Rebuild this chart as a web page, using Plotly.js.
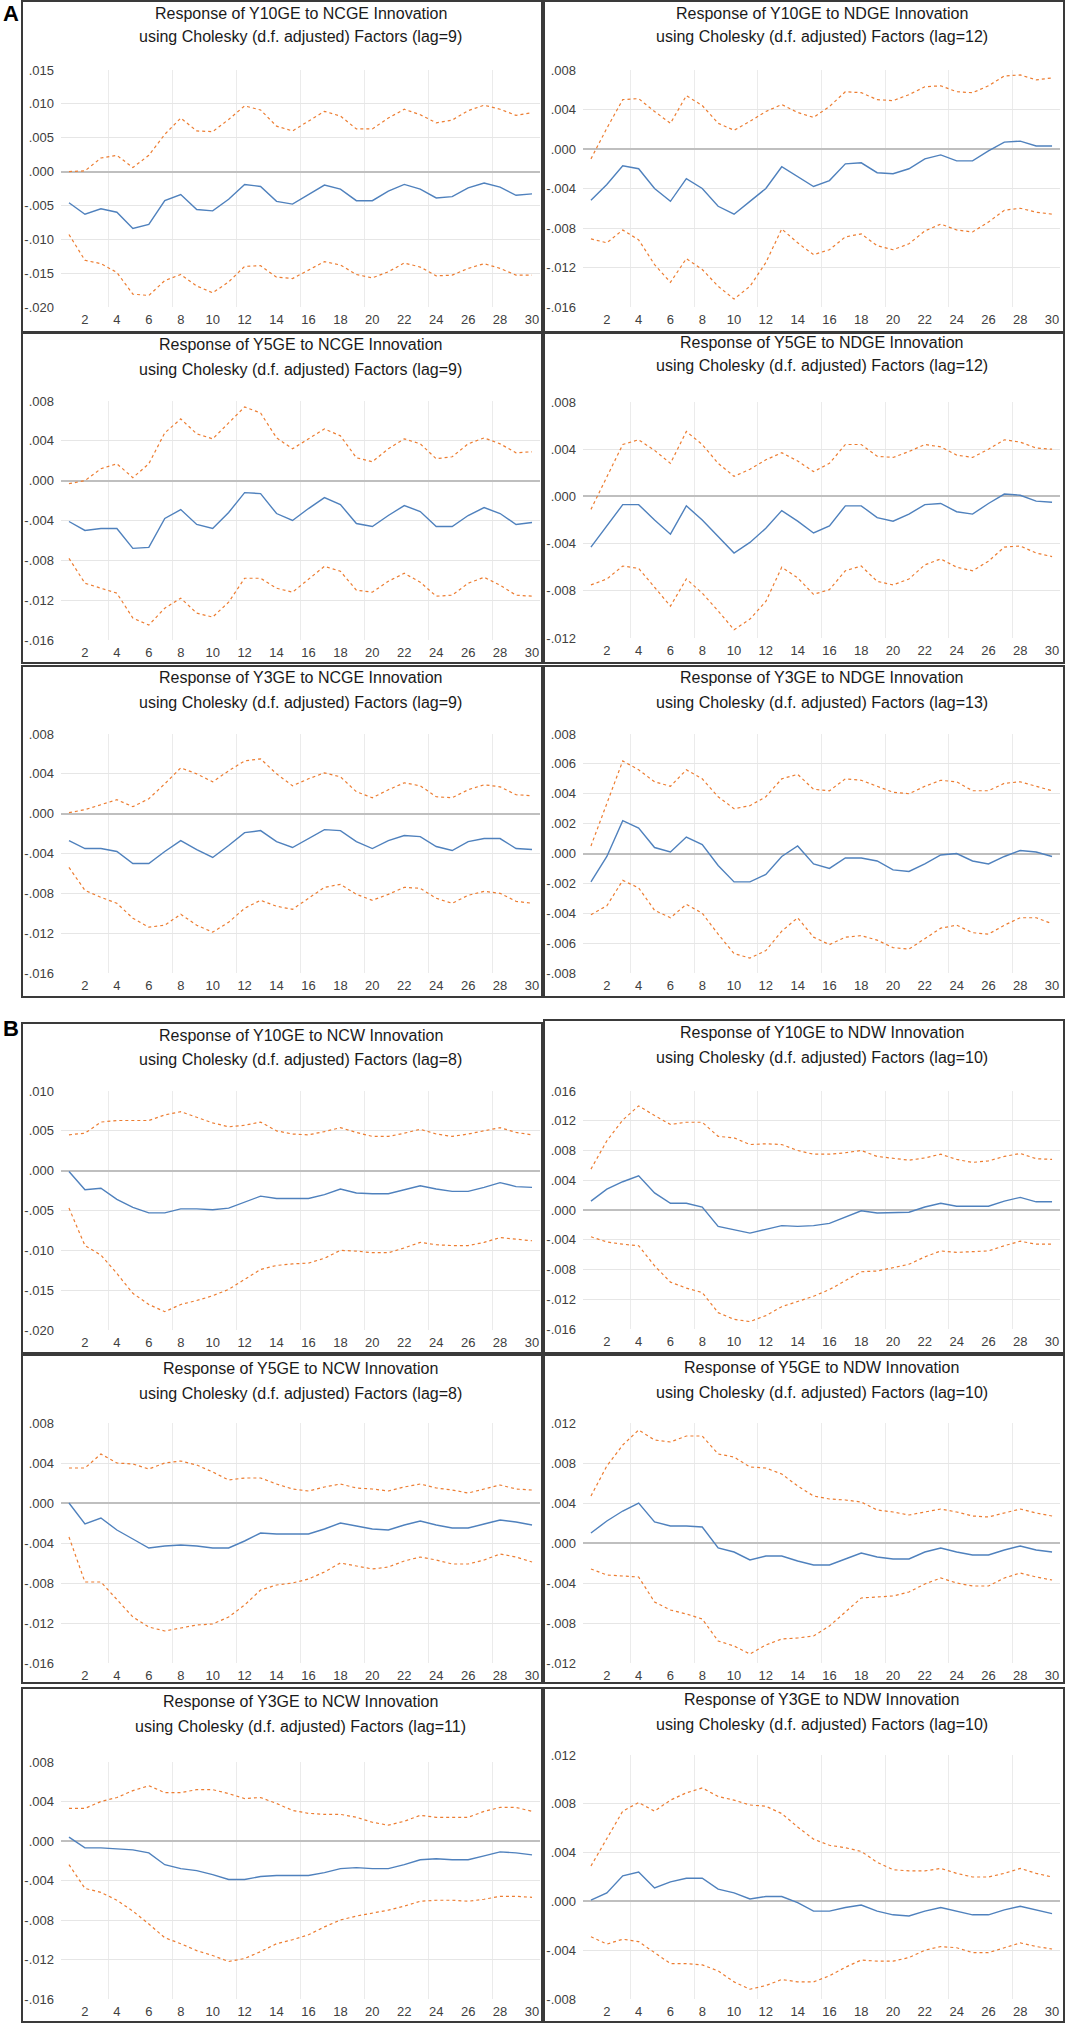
<!DOCTYPE html>
<html>
<head>
<meta charset="utf-8">
<script src="https://cdn.plot.ly/plotly-3.0.1.min.js"></script>
<style>
  html, body { margin: 0; padding: 0; background: #fff; }
  #graph { width: 1066px; height: 2024px; }
</style>
</head>
<body>
<div id="graph"></div>
<script>
// Impulse responses (response, upper and lower bands) for 30 periods.

const periods = [1, 2, 3, 4, 5, 6, 7, 8, 9, 10, 11, 12, 13, 14, 15, 16, 17, 18, 19, 20, 21, 22, 23, 24, 25, 26, 27, 28, 29, 30];
const xTickVals = [2, 4, 6, 8, 10, 12, 14, 16, 18, 20, 22, 24, 26, 28, 30];

// A: Y10GE to NCGE (lag=9)
const y10ncgeUp = [0.0000, 0.0001, 0.0020, 0.0024, 0.0006, 0.0024, 0.0055, 0.0079, 0.0060, 0.0059, 0.0077, 0.0097, 0.0091, 0.0067, 0.0060, 0.0075, 0.0089, 0.0082, 0.0063, 0.0063, 0.0079, 0.0092, 0.0084, 0.0072, 0.0076, 0.0090, 0.0098, 0.0092, 0.0083, 0.0087];
const y10ncgeResp = [-0.0046, -0.0063, -0.0055, -0.0060, -0.0084, -0.0078, -0.0043, -0.0034, -0.0056, -0.0058, -0.0041, -0.0019, -0.0022, -0.0044, -0.0048, -0.0034, -0.0020, -0.0026, -0.0043, -0.0043, -0.0029, -0.0019, -0.0026, -0.0039, -0.0037, -0.0024, -0.0017, -0.0023, -0.0035, -0.0033];
const y10ncgeLow = [-0.0093, -0.0131, -0.0136, -0.0149, -0.0181, -0.0183, -0.0161, -0.0152, -0.0169, -0.0179, -0.0163, -0.0140, -0.0139, -0.0156, -0.0158, -0.0146, -0.0133, -0.0138, -0.0152, -0.0157, -0.0148, -0.0135, -0.0141, -0.0154, -0.0153, -0.0143, -0.0136, -0.0143, -0.0153, -0.0153];

// A: Y10GE to NDGE (lag=12)
const y10ndgeUp = [-0.0010, 0.0021, 0.0050, 0.0051, 0.0038, 0.0026, 0.0054, 0.0044, 0.0026, 0.0019, 0.0028, 0.0038, 0.0045, 0.0037, 0.0032, 0.0043, 0.0058, 0.0057, 0.0050, 0.0049, 0.0055, 0.0063, 0.0064, 0.0058, 0.0057, 0.0064, 0.0074, 0.0075, 0.0070, 0.0072];
const y10ndgeResp = [-0.0052, -0.0036, -0.0017, -0.0020, -0.0040, -0.0053, -0.0030, -0.0040, -0.0058, -0.0066, -0.0053, -0.0040, -0.0018, -0.0028, -0.0038, -0.0032, -0.0015, -0.0014, -0.0024, -0.0025, -0.0020, -0.0010, -0.0006, -0.0012, -0.0012, -0.0002, 0.0007, 0.0008, 0.0003, 0.0003];
const y10ndgeLow = [-0.0091, -0.0095, -0.0082, -0.0092, -0.0117, -0.0135, -0.0111, -0.0122, -0.0139, -0.0152, -0.0139, -0.0115, -0.0081, -0.0095, -0.0107, -0.0102, -0.0089, -0.0086, -0.0098, -0.0102, -0.0096, -0.0083, -0.0076, -0.0082, -0.0084, -0.0074, -0.0062, -0.0060, -0.0064, -0.0066];

// A: Y5GE to NCGE (lag=9)
const y5ncgeUp = [-0.0003, 0.0000, 0.0012, 0.0017, 0.0003, 0.0017, 0.0048, 0.0062, 0.0047, 0.0042, 0.0058, 0.0074, 0.0068, 0.0043, 0.0032, 0.0042, 0.0052, 0.0045, 0.0023, 0.0019, 0.0032, 0.0042, 0.0037, 0.0022, 0.0024, 0.0037, 0.0043, 0.0037, 0.0028, 0.0029];
const y5ncgeResp = [-0.0041, -0.0050, -0.0048, -0.0048, -0.0068, -0.0067, -0.0038, -0.0029, -0.0044, -0.0048, -0.0032, -0.0012, -0.0013, -0.0033, -0.0040, -0.0028, -0.0017, -0.0024, -0.0043, -0.0046, -0.0035, -0.0025, -0.0031, -0.0046, -0.0046, -0.0035, -0.0027, -0.0033, -0.0044, -0.0042];
const y5ncgeLow = [-0.0078, -0.0103, -0.0108, -0.0113, -0.0138, -0.0145, -0.0128, -0.0118, -0.0133, -0.0137, -0.0122, -0.0098, -0.0098, -0.0108, -0.0112, -0.0099, -0.0086, -0.0091, -0.0110, -0.0112, -0.0101, -0.0093, -0.0102, -0.0116, -0.0115, -0.0103, -0.0097, -0.0105, -0.0115, -0.0116];

// A: Y5GE to NDGE (lag=12)
const y5ndgeUp = [-0.0011, 0.0017, 0.0044, 0.0048, 0.0039, 0.0028, 0.0055, 0.0044, 0.0028, 0.0017, 0.0023, 0.0031, 0.0037, 0.0030, 0.0021, 0.0028, 0.0044, 0.0044, 0.0034, 0.0033, 0.0038, 0.0044, 0.0042, 0.0035, 0.0033, 0.0040, 0.0048, 0.0046, 0.0041, 0.0040];
const y5ndgeResp = [-0.0043, -0.0025, -0.0007, -0.0007, -0.0020, -0.0032, -0.0008, -0.0020, -0.0034, -0.0048, -0.0039, -0.0027, -0.0012, -0.0021, -0.0031, -0.0025, -0.0008, -0.0008, -0.0018, -0.0021, -0.0015, -0.0007, -0.0006, -0.0013, -0.0015, -0.0006, 0.0002, 0.0001, -0.0004, -0.0005];
const y5ndgeLow = [-0.0075, -0.0070, -0.0059, -0.0061, -0.0077, -0.0093, -0.0070, -0.0082, -0.0097, -0.0113, -0.0104, -0.0089, -0.0060, -0.0069, -0.0083, -0.0079, -0.0063, -0.0059, -0.0072, -0.0075, -0.0070, -0.0058, -0.0053, -0.0060, -0.0063, -0.0055, -0.0043, -0.0042, -0.0048, -0.0051];

// A: Y3GE to NCGE (lag=9)
const y3ncgeUp = [0.0001, 0.0004, 0.0009, 0.0014, 0.0007, 0.0015, 0.0030, 0.0046, 0.0040, 0.0032, 0.0043, 0.0053, 0.0055, 0.0040, 0.0028, 0.0035, 0.0041, 0.0037, 0.0022, 0.0016, 0.0024, 0.0031, 0.0028, 0.0017, 0.0016, 0.0024, 0.0029, 0.0027, 0.0019, 0.0018];
const y3ncgeResp = [-0.0027, -0.0035, -0.0035, -0.0038, -0.0050, -0.0050, -0.0038, -0.0027, -0.0036, -0.0044, -0.0032, -0.0019, -0.0017, -0.0028, -0.0034, -0.0025, -0.0016, -0.0017, -0.0028, -0.0035, -0.0027, -0.0022, -0.0023, -0.0033, -0.0037, -0.0028, -0.0025, -0.0025, -0.0035, -0.0036];
const y3ncgeLow = [-0.0054, -0.0077, -0.0084, -0.0090, -0.0105, -0.0114, -0.0112, -0.0101, -0.0112, -0.0119, -0.0109, -0.0095, -0.0087, -0.0093, -0.0096, -0.0085, -0.0074, -0.0071, -0.0081, -0.0087, -0.0081, -0.0074, -0.0075, -0.0085, -0.0090, -0.0082, -0.0078, -0.0080, -0.0088, -0.0090];

// A: Y3GE to NDGE (lag=13)
const y3ndgeUp = [0.0005, 0.0033, 0.0062, 0.0056, 0.0048, 0.0045, 0.0056, 0.0050, 0.0038, 0.0030, 0.0032, 0.0038, 0.0050, 0.0053, 0.0043, 0.0042, 0.0050, 0.0049, 0.0045, 0.0041, 0.0040, 0.0045, 0.0049, 0.0048, 0.0042, 0.0042, 0.0047, 0.0048, 0.0045, 0.0042];
const y3ndgeResp = [-0.0019, -0.0002, 0.0022, 0.0017, 0.0004, 0.0001, 0.0011, 0.0006, -0.0008, -0.0019, -0.0019, -0.0014, -0.0002, 0.0005, -0.0007, -0.0010, -0.0003, -0.0003, -0.0005, -0.0011, -0.0012, -0.0007, -0.0001, 0.0000, -0.0005, -0.0007, -0.0002, 0.0002, 0.0001, -0.0002];
const y3ndgeLow = [-0.0041, -0.0035, -0.0018, -0.0023, -0.0038, -0.0043, -0.0034, -0.0040, -0.0054, -0.0067, -0.0070, -0.0065, -0.0052, -0.0043, -0.0056, -0.0061, -0.0056, -0.0055, -0.0058, -0.0063, -0.0064, -0.0057, -0.0050, -0.0048, -0.0053, -0.0054, -0.0048, -0.0043, -0.0043, -0.0047];

// B: Y10GE to NCW (lag=8)
const y10ncwUp = [0.0045, 0.0047, 0.0061, 0.0063, 0.0063, 0.0063, 0.0070, 0.0074, 0.0067, 0.0060, 0.0055, 0.0057, 0.0061, 0.0050, 0.0046, 0.0045, 0.0049, 0.0054, 0.0048, 0.0043, 0.0043, 0.0047, 0.0052, 0.0046, 0.0043, 0.0046, 0.0050, 0.0054, 0.0048, 0.0045];
const y10ncwResp = [-0.0001, -0.0024, -0.0022, -0.0036, -0.0046, -0.0053, -0.0053, -0.0048, -0.0048, -0.0049, -0.0047, -0.0040, -0.0032, -0.0035, -0.0035, -0.0035, -0.0030, -0.0023, -0.0028, -0.0029, -0.0029, -0.0024, -0.0019, -0.0023, -0.0026, -0.0026, -0.0021, -0.0015, -0.0020, -0.0021];
const y10ncwLow = [-0.0047, -0.0094, -0.0106, -0.0129, -0.0154, -0.0168, -0.0177, -0.0168, -0.0163, -0.0157, -0.0149, -0.0137, -0.0124, -0.0119, -0.0117, -0.0116, -0.0110, -0.0100, -0.0101, -0.0103, -0.0103, -0.0097, -0.0090, -0.0093, -0.0094, -0.0094, -0.0090, -0.0084, -0.0086, -0.0088];

// B: Y10GE to NDW (lag=10)
const y10ndwUp = [0.0055, 0.0093, 0.0121, 0.0140, 0.0127, 0.0115, 0.0118, 0.0118, 0.0099, 0.0097, 0.0088, 0.0089, 0.0088, 0.0080, 0.0075, 0.0075, 0.0077, 0.0080, 0.0072, 0.0070, 0.0067, 0.0070, 0.0075, 0.0068, 0.0064, 0.0066, 0.0072, 0.0076, 0.0069, 0.0068];
const y10ndwResp = [0.0012, 0.0028, 0.0038, 0.0046, 0.0023, 0.0009, 0.0009, 0.0004, -0.0022, -0.0026, -0.0031, -0.0026, -0.0021, -0.0022, -0.0021, -0.0018, -0.0009, -0.0001, -0.0004, -0.0004, -0.0003, 0.0004, 0.0009, 0.0005, 0.0005, 0.0005, 0.0012, 0.0017, 0.0011, 0.0011];
const y10ndwLow = [-0.0036, -0.0043, -0.0046, -0.0048, -0.0075, -0.0097, -0.0105, -0.0111, -0.0138, -0.0147, -0.0150, -0.0142, -0.0130, -0.0123, -0.0116, -0.0107, -0.0095, -0.0083, -0.0082, -0.0077, -0.0073, -0.0063, -0.0055, -0.0057, -0.0056, -0.0055, -0.0048, -0.0042, -0.0046, -0.0046];

// B: Y5GE to NCW (lag=8)
const y5ncwUp = [0.0035, 0.0035, 0.0049, 0.0040, 0.0039, 0.0034, 0.0040, 0.0042, 0.0038, 0.0031, 0.0023, 0.0025, 0.0025, 0.0019, 0.0014, 0.0012, 0.0016, 0.0019, 0.0015, 0.0014, 0.0012, 0.0016, 0.0019, 0.0015, 0.0013, 0.0010, 0.0014, 0.0018, 0.0014, 0.0013];
const y5ncwResp = [0.0000, -0.0021, -0.0015, -0.0027, -0.0036, -0.0045, -0.0043, -0.0042, -0.0043, -0.0045, -0.0045, -0.0038, -0.0030, -0.0031, -0.0031, -0.0031, -0.0026, -0.0020, -0.0023, -0.0026, -0.0027, -0.0022, -0.0018, -0.0022, -0.0025, -0.0025, -0.0021, -0.0017, -0.0019, -0.0022];
const y5ncwLow = [-0.0034, -0.0079, -0.0079, -0.0097, -0.0114, -0.0124, -0.0128, -0.0125, -0.0122, -0.0121, -0.0114, -0.0102, -0.0087, -0.0082, -0.0080, -0.0076, -0.0069, -0.0060, -0.0063, -0.0066, -0.0064, -0.0058, -0.0054, -0.0057, -0.0061, -0.0061, -0.0057, -0.0051, -0.0054, -0.0059];

// B: Y5GE to NDW (lag=10)
const y5ndwUp = [0.0047, 0.0077, 0.0098, 0.0113, 0.0103, 0.0101, 0.0107, 0.0107, 0.0089, 0.0086, 0.0076, 0.0075, 0.0069, 0.0057, 0.0047, 0.0044, 0.0043, 0.0041, 0.0033, 0.0031, 0.0028, 0.0031, 0.0034, 0.0031, 0.0027, 0.0026, 0.0030, 0.0034, 0.0030, 0.0027];
const y5ndwResp = [0.0010, 0.0022, 0.0032, 0.0040, 0.0021, 0.0017, 0.0017, 0.0016, -0.0005, -0.0009, -0.0017, -0.0013, -0.0013, -0.0018, -0.0022, -0.0022, -0.0016, -0.0010, -0.0014, -0.0016, -0.0016, -0.0009, -0.0005, -0.0009, -0.0012, -0.0012, -0.0007, -0.0003, -0.0007, -0.0009];
const y5ndwLow = [-0.0026, -0.0032, -0.0033, -0.0034, -0.0059, -0.0067, -0.0071, -0.0076, -0.0098, -0.0103, -0.0111, -0.0102, -0.0096, -0.0095, -0.0093, -0.0083, -0.0069, -0.0055, -0.0054, -0.0053, -0.0049, -0.0041, -0.0035, -0.0040, -0.0043, -0.0043, -0.0035, -0.0030, -0.0034, -0.0037];

// B: Y3GE to NCW (lag=11)
const y3ncwUp = [0.0033, 0.0033, 0.0040, 0.0044, 0.0051, 0.0056, 0.0049, 0.0049, 0.0052, 0.0052, 0.0048, 0.0043, 0.0044, 0.0038, 0.0031, 0.0028, 0.0027, 0.0027, 0.0024, 0.0019, 0.0016, 0.0020, 0.0026, 0.0024, 0.0024, 0.0024, 0.0030, 0.0034, 0.0034, 0.0030];
const y3ncwResp = [0.0004, -0.0007, -0.0007, -0.0008, -0.0009, -0.0012, -0.0024, -0.0028, -0.0030, -0.0034, -0.0039, -0.0039, -0.0036, -0.0035, -0.0035, -0.0035, -0.0032, -0.0028, -0.0027, -0.0028, -0.0028, -0.0024, -0.0019, -0.0018, -0.0019, -0.0019, -0.0015, -0.0011, -0.0012, -0.0014];
const y3ncwLow = [-0.0024, -0.0048, -0.0052, -0.0060, -0.0071, -0.0084, -0.0098, -0.0104, -0.0111, -0.0116, -0.0122, -0.0119, -0.0112, -0.0104, -0.0100, -0.0095, -0.0087, -0.0080, -0.0076, -0.0073, -0.0070, -0.0066, -0.0061, -0.0060, -0.0060, -0.0061, -0.0059, -0.0056, -0.0056, -0.0057];

// B: Y3GE to NDW (lag=10)
const y3ndwUp = [0.0029, 0.0052, 0.0074, 0.0081, 0.0074, 0.0083, 0.0089, 0.0093, 0.0086, 0.0083, 0.0079, 0.0078, 0.0072, 0.0061, 0.0051, 0.0046, 0.0044, 0.0041, 0.0032, 0.0026, 0.0025, 0.0025, 0.0027, 0.0023, 0.0020, 0.0020, 0.0023, 0.0027, 0.0023, 0.0020];
const y3ndwResp = [0.0001, 0.0007, 0.0021, 0.0024, 0.0011, 0.0016, 0.0019, 0.0019, 0.0010, 0.0007, 0.0002, 0.0004, 0.0004, -0.0001, -0.0008, -0.0008, -0.0005, -0.0003, -0.0008, -0.0011, -0.0012, -0.0008, -0.0005, -0.0008, -0.0011, -0.0011, -0.0007, -0.0004, -0.0007, -0.0010];
const y3ndwLow = [-0.0029, -0.0035, -0.0031, -0.0033, -0.0042, -0.0051, -0.0051, -0.0052, -0.0057, -0.0066, -0.0072, -0.0069, -0.0064, -0.0066, -0.0066, -0.0061, -0.0054, -0.0048, -0.0049, -0.0049, -0.0046, -0.0040, -0.0037, -0.0038, -0.0042, -0.0042, -0.0038, -0.0034, -0.0037, -0.0039];

// y-axis tick values, one list per panel
const ticksA1 = [0.015, 0.010, 0.005, 0.000, -0.005, -0.010, -0.015, -0.020];
const ticksA2 = [0.008, 0.004, 0.000, -0.004, -0.008, -0.012, -0.016];
const ticksA3 = [0.008, 0.004, 0.000, -0.004, -0.008, -0.012, -0.016];
const ticksA4 = [0.008, 0.004, 0.000, -0.004, -0.008, -0.012];
const ticksA5 = [0.008, 0.004, 0.000, -0.004, -0.008, -0.012, -0.016];
const ticksA6 = [0.008, 0.006, 0.004, 0.002, 0.000, -0.002, -0.004, -0.006, -0.008];
const ticksB1 = [0.010, 0.005, 0.000, -0.005, -0.010, -0.015, -0.020];
const ticksB2 = [0.016, 0.012, 0.008, 0.004, 0.000, -0.004, -0.008, -0.012, -0.016];
const ticksB3 = [0.008, 0.004, 0.000, -0.004, -0.008, -0.012, -0.016];
const ticksB4 = [0.012, 0.008, 0.004, 0.000, -0.004, -0.008, -0.012];
const ticksB5 = [0.008, 0.004, 0.000, -0.004, -0.008, -0.012, -0.016];
const ticksB6 = [0.012, 0.008, 0.004, 0.000, -0.004, -0.008];

const panels = [
  { title: "Response of Y10GE to NCGE Innovation", lag: 9, up: y10ncgeUp, resp: y10ncgeResp, low: y10ncgeLow, ticks: ticksA1 },
  { title: "Response of Y10GE to NDGE Innovation", lag: 12, up: y10ndgeUp, resp: y10ndgeResp, low: y10ndgeLow, ticks: ticksA2 },
  { title: "Response of Y5GE to NCGE Innovation", lag: 9, up: y5ncgeUp, resp: y5ncgeResp, low: y5ncgeLow, ticks: ticksA3 },
  { title: "Response of Y5GE to NDGE Innovation", lag: 12, up: y5ndgeUp, resp: y5ndgeResp, low: y5ndgeLow, ticks: ticksA4 },
  { title: "Response of Y3GE to NCGE Innovation", lag: 9, up: y3ncgeUp, resp: y3ncgeResp, low: y3ncgeLow, ticks: ticksA5 },
  { title: "Response of Y3GE to NDGE Innovation", lag: 13, up: y3ndgeUp, resp: y3ndgeResp, low: y3ndgeLow, ticks: ticksA6 },
  { title: "Response of Y10GE to NCW Innovation", lag: 8, up: y10ncwUp, resp: y10ncwResp, low: y10ncwLow, ticks: ticksB1 },
  { title: "Response of Y10GE to NDW Innovation", lag: 10, up: y10ndwUp, resp: y10ndwResp, low: y10ndwLow, ticks: ticksB2 },
  { title: "Response of Y5GE to NCW Innovation", lag: 8, up: y5ncwUp, resp: y5ncwResp, low: y5ncwLow, ticks: ticksB3 },
  { title: "Response of Y5GE to NDW Innovation", lag: 10, up: y5ndwUp, resp: y5ndwResp, low: y5ndwLow, ticks: ticksB4 },
  { title: "Response of Y3GE to NCW Innovation", lag: 11, up: y3ncwUp, resp: y3ncwResp, low: y3ncwLow, ticks: ticksB5 },
  { title: "Response of Y3GE to NDW Innovation", lag: 10, up: y3ndwUp, resp: y3ndwResp, low: y3ndwLow, ticks: ticksB6 },
];

// page geometry in pixels
const W = 1066;
const H = 2024;
const colPlotX = [[61, 540], [583, 1060]];
const colBoxX = [[22, 542], [544, 1064]];
const plotY = [[70, 307], [70, 307], [401, 640], [402, 638], [734, 973], [734, 973],
  [1091, 1330], [1091, 1329], [1423, 1663], [1423, 1663], [1762, 1999], [1755, 1999]];
const boxY = [[1, 332], [1, 332], [333, 663], [333, 663], [666, 997], [666, 997],
  [1023, 1353], [1020, 1353], [1355, 1683], [1355, 1683], [1688, 2022], [1688, 2022]];
const titleY = [[13, 37], [13, 37], [345, 369], [342, 365], [678, 702], [678, 702],
  [1035, 1059], [1032, 1057], [1368, 1393], [1367, 1392], [1701, 1726], [1699, 1724]];

const px = (x) => x / W;
const py = (y) => 1 - y / H;

function fmtTick(v) {
  const s = Math.abs(v).toFixed(3).replace(/^0/, "");
  return v < 0 ? "-" + s : s;
}

const blue = "#4f81bd";
const orange = "#ed7d31";
const tickFont = { family: "Liberation Sans Narrow, Liberation Sans, Arial, sans-serif", size: 13, color: "#404040" };
const titleFont = { family: "Liberation Sans Narrow, Liberation Sans, Arial, sans-serif", size: 16, color: "#1a1a1a" };

const traces = [];
const layout = {
  width: W,
  height: H,
  margin: { l: 0, r: 0, t: 0, b: 0 },
  paper_bgcolor: "#ffffff",
  plot_bgcolor: "#ffffff",
  showlegend: false,
  shapes: [],
  annotations: [],
};

panels.forEach((p, i) => {
  const col = i % 2;
  const n = i === 0 ? "" : String(i + 1);
  const xa = "x" + n;
  const ya = "y" + n;

  [[p.up, orange, "dot", 1.2], [p.low, orange, "dot", 1.2], [p.resp, blue, "solid", 1.4]].forEach(([vals, color, dash, w]) => {
    traces.push({
      x: periods,
      y: vals,
      xaxis: xa,
      yaxis: ya,
      type: "scatter",
      mode: "lines",
      line: { color: color, width: w, dash: dash },
      hoverinfo: "skip",
    });
  });

  const ticks = p.ticks;
  layout["xaxis" + n] = {
    domain: [px(colPlotX[col][0]), px(colPlotX[col][1])],
    anchor: ya,
    range: [0.5, 30.5],
    tickmode: "array",
    tickvals: xTickVals,
    ticktext: xTickVals.map(String),
    tickfont: tickFont,
    showgrid: false,
    zeroline: false,
    showline: false,
    ticks: "",
    ticklabelstandoff: 3,
    minor: {
      tickmode: "array",
      tickvals: [3.5, 7.5, 11.5, 15.5, 19.5, 23.5, 27.5],
      showgrid: true,
      gridcolor: "#ebebeb",
      gridwidth: 1,
      ticks: "",
    },
  };
  layout["yaxis" + n] = {
    domain: [py(plotY[i][1]), py(plotY[i][0])],
    anchor: xa,
    range: [Math.min(...ticks), Math.max(...ticks)],
    tickmode: "array",
    tickvals: ticks,
    ticktext: ticks.map(fmtTick),
    tickfont: tickFont,
    showgrid: true,
    gridcolor: "#e6e6e6",
    gridwidth: 1,
    zeroline: true,
    zerolinecolor: "#bfbfbf",
    zerolinewidth: 2,
    showline: false,
    ticks: "",
    ticklabelstandoff: 6,
  };

  // panel frame
  layout.shapes.push({
    type: "rect",
    xref: "paper",
    yref: "paper",
    x0: px(colBoxX[col][0]),
    x1: px(colBoxX[col][1]),
    y0: py(boxY[i][1]),
    y1: py(boxY[i][0]),
    line: { color: "#3a3a3a", width: 2 },
  });

  const cx = px((colPlotX[col][0] + colPlotX[col][1]) / 2);
  layout.annotations.push({
    text: p.title,
    xref: "paper", yref: "paper",
    x: cx, y: py(titleY[i][0]),
    xanchor: "center", yanchor: "middle",
    showarrow: false,
    font: titleFont,
  });
  layout.annotations.push({
    text: "using Cholesky (d.f. adjusted) Factors (lag=" + p.lag + ")",
    xref: "paper", yref: "paper",
    x: cx, y: py(titleY[i][1]),
    xanchor: "center", yanchor: "middle",
    showarrow: false,
    font: titleFont,
  });
});

[["A", 13], ["B", 1028]].forEach(([label, y]) => {
  layout.annotations.push({
    text: "<b>" + label + "</b>",
    xref: "paper", yref: "paper",
    x: px(1), y: py(y),
    xanchor: "left", yanchor: "middle",
    showarrow: false,
    font: { family: "Liberation Sans, Arial, sans-serif", size: 22, color: "#000000" },
  });
});

Plotly.newPlot("graph", traces, layout, { staticPlot: true });
</script>
</body>
</html>
